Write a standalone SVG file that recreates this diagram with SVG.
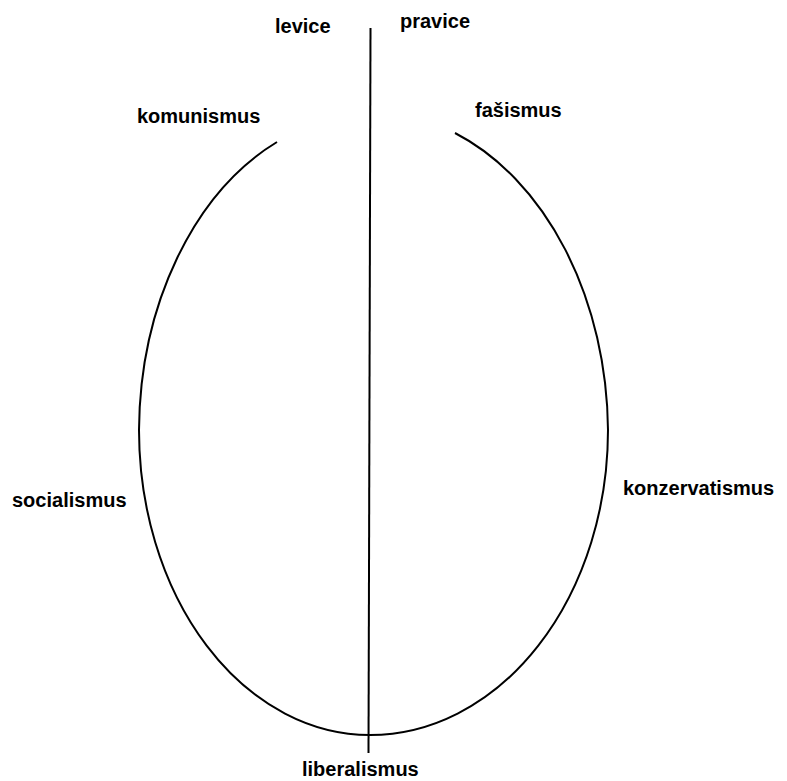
<svg xmlns="http://www.w3.org/2000/svg" width="787" height="781" viewBox="0 0 787 781">
<style>
.lbl{font-family:"Liberation Sans",Arial,sans-serif;font-size:20px;font-weight:bold;fill:#000}
.ln{fill:none;stroke:#000;stroke-width:2}
</style>
<rect width="787" height="781" fill="#fff"/>
<g id="connectors">
<path id="axis" class="ln" d="M370.5 28 L368.5 753"/>
<path id="spectrum" class="ln" d="M277 142 A231 318 0 0 0 139 430 A231 305 0 0 0 370 735 A238 305 0 0 0 608 430 A238 322 0 0 0 455 133"/>
</g>
<g id="levice"><text class="lbl" x="275" y="33">levice</text></g>
<g id="pravice"><text class="lbl" x="400" y="28">pravice</text></g>
<g id="komunismus"><text class="lbl" x="137" y="123">komunismus</text></g>
<g id="fasismus"><text class="lbl" x="475" y="117">fašismus</text></g>
<g id="socialismus"><text class="lbl" x="12" y="507">socialismus</text></g>
<g id="konzervatismus"><text class="lbl" x="623" y="495">konzervatismus</text></g>
<g id="liberalismus"><text class="lbl" x="302" y="776">liberalismus</text></g>
</svg>
